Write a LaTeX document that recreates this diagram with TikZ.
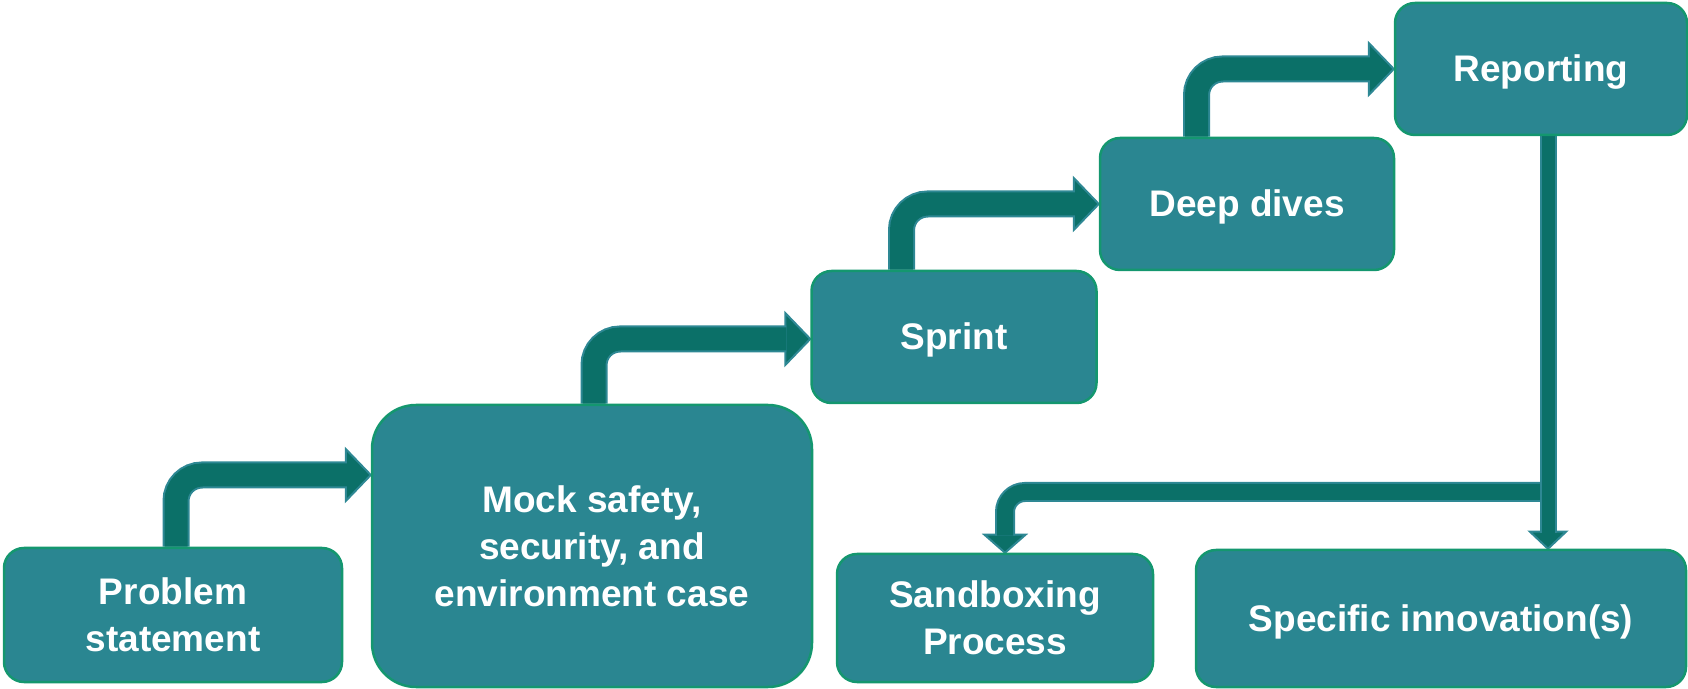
\documentclass[tikz,border=0pt]{standalone}
\usepackage{fontspec}
\setmainfont{Liberation Sans}
\usetikzlibrary{backgrounds}

\definecolor{boxfill}{HTML}{2A8691}
\definecolor{boxedge}{HTML}{14976F}
\definecolor{shaftfill}{HTML}{0B7068}
\definecolor{shaftedge}{HTML}{2E8894}

\tikzset{
  stage/.style={draw=boxedge, fill=boxfill, line width=1.25pt, rounded corners=10pt,
    text=white, align=center, inner sep=0pt,
    font=\fontsize{18.5}{23.5}\selectfont\bfseries},
  oneline/.style={text height=17pt, text depth=4pt},
  shaft/.style={draw=shaftedge, line width=1pt, double=shaftfill,
    double distance=11.5pt, rounded corners=13pt},
  thinshaft/.style={shaft, double distance=6.5pt, rounded corners=9pt},
  midshaft/.style={shaft, double distance=8pt, rounded corners=10pt},
  headstyle/.style={fill=shaftfill, draw=shaftedge, line width=1pt, line join=miter},
}

\begin{document}
\begin{tikzpicture}[x=0.5pt, y=0.5pt]
    \useasboundingbox (0,0) rectangle (1688,-689);

    % the stages
    \node[stage, minimum width=169pt, minimum height=67pt] (prob) at (173,-615) {Problem\\statement};
    \node[stage, minimum width=220pt, minimum height=141pt, rounded corners=22pt] (mock) at (592,-546)
        {Mock safety,\\security, and\\environment case};
    \node[stage, oneline, minimum width=142.5pt, minimum height=66pt] (sprint) at (954,-337) {Sprint};
    \node[stage, oneline, minimum width=147pt, minimum height=66pt] (deep) at (1247,-204) {Deep dives};
    \node[stage, oneline, minimum width=146pt, minimum height=66pt] (rep) at (1541,-69) {Reporting};
    \node[stage, minimum width=158pt, minimum height=64pt] (sand) at (995,-618) {Sandboxing\\Process};
    \node[stage, oneline, minimum width=245pt, minimum height=68.5pt] (spec) at (1441,-618.5) {Specific innovation(s)};

    \begin{pgfonlayer}{background}
    % bent arrows climbing the steps: head first, then the shaft over its base
    \filldraw[headstyle] ([yshift=35.5pt]mock.west) -- ++(-25,26) -- ++(0,-52) -- cycle;
    \draw[shaft] ([xshift=1.5pt]prob.north) |- ([xshift=-12pt,yshift=35.5pt]mock.west);

    \filldraw[headstyle] ([yshift=-1pt]sprint.west) -- ++(-25,26) -- ++(0,-52) -- cycle;
    \draw[shaft] ([xshift=1pt]mock.north) |- ([xshift=-12pt,yshift=-1pt]sprint.west);

    \filldraw[headstyle] (deep.west) -- ++(-25,26) -- ++(0,-52) -- cycle;
    \draw[shaft] ([xshift=-26.25pt]sprint.north) |- ([xshift=-12pt]deep.west);

    \filldraw[headstyle] (rep.west) -- ++(-25,26) -- ++(0,-52) -- cycle;
    \draw[shaft] ([xshift=-25.25pt]deep.north) |- ([xshift=-12pt]rep.west);

    % split below Reporting
    \coordinate (rtop) at ([xshift=3.5pt]rep.south);
    \coordinate (fork) at (rtop |- 0,-492);

    \filldraw[headstyle] ([xshift=5pt]sand.north) -- ++(-20.5,18) -- ++(41,0) -- cycle;
    \draw[midshaft] (fork) -| ([xshift=5pt,yshift=8.5pt]sand.north);

    \filldraw[headstyle] (rtop |- spec.north) -- ++(-18,17) -- ++(36,0) -- cycle;
    \draw[thinshaft] (rtop) -- ([yshift=8pt]rtop |- spec.north);
    \end{pgfonlayer}
\end{tikzpicture}
\end{document}
